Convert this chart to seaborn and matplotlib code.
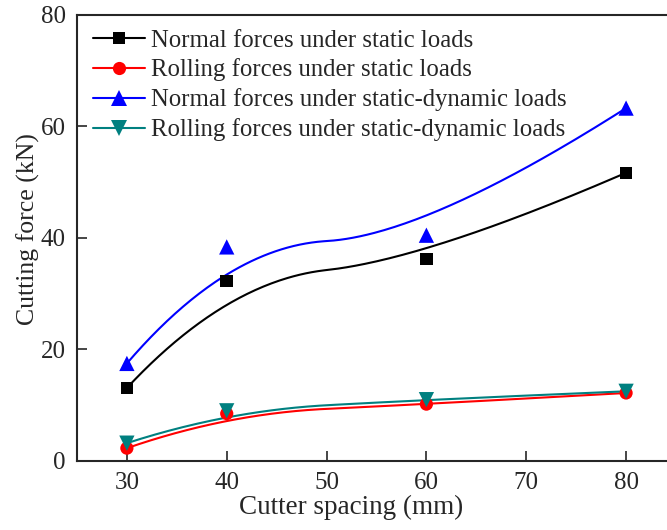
import numpy as np
import pandas as pd
import matplotlib
matplotlib.use("Agg")
import matplotlib.pyplot as plt
from matplotlib.lines import Line2D
import seaborn as sns

spacing = [30, 40, 60, 80]
normal_static = [13.1, 32.3, 36.2, 51.7]
rolling_static = [2.3, 8.5, 10.2, 12.2]
normal_dynamic = [17.5, 38.4, 40.5, 63.3]
rolling_dynamic = [3.2, 9.0, 11.0, 12.5]
labels = ["Normal forces under static loads",
          "Rolling forces under static loads",
          "Normal forces under static-dynamic loads",
          "Rolling forces under static-dynamic loads"]
colors = ["#000000", "#FF0000", "#0000FF", "#008080"]
markers = ["s", "o", "^", "v"]
sizes = [9, 9.5, 11, 11]


def bspline2(px, py, n=200):
    """Clamped quadratic B-spline using the data points as control points."""
    P = np.column_stack([px, py]).astype(float)
    k = 2
    m = len(P)
    inner = np.linspace(0, 1, m - k + 1)[1:-1]
    t = np.concatenate([[0] * (k + 1), inner, [1] * (k + 1)])
    u = np.linspace(0, 1, n)
    u[-1] = 1 - 1e-12

    def N(i, p, x):
        if p == 0:
            return np.where((t[i] <= x) & (x < t[i + 1]), 1.0, 0.0)
        a = np.zeros_like(x)
        b = np.zeros_like(x)
        if t[i + p] != t[i]:
            a = (x - t[i]) / (t[i + p] - t[i]) * N(i, p - 1, x)
        if t[i + p + 1] != t[i + 1]:
            b = (t[i + p + 1] - x) / (t[i + p + 1] - t[i + 1]) * N(i + 1, p - 1, x)
        return a + b

    B = np.column_stack([N(i, k, u) for i in range(m)])
    C = B @ P
    return C[:, 0], C[:, 1]


sns.set_style("ticks")
plt.rcParams["font.family"] = ["Liberation Serif", "DejaVu Serif"]
plt.rcParams["mathtext.fontset"] = "stix"

fig = plt.figure(figsize=(6.67, 5.30), dpi=100)
ax = fig.add_axes([0.1154, 0.1302, 0.8981, 0.8415])

series = [normal_static, rolling_static, normal_dynamic, rolling_dynamic]
handles = []
for vals, lab, col, mk, ms in zip(series, labels, colors, markers, sizes):
    cx, cy = bspline2(spacing, vals)
    curve = pd.DataFrame({"x": cx, "y": cy})
    sns.lineplot(data=curve, x="x", y="y", sort=False, color=col, lw=1.5,
                 ax=ax, legend=False, estimator=None)
    pts = pd.DataFrame({"x": spacing, "y": vals})
    sns.scatterplot(data=pts, x="x", y="y", marker=mk, color=col, s=ms ** 2,
                    edgecolor="none", ax=ax, legend=False, zorder=3)
    handles.append(Line2D([], [], color=col, lw=1.5, marker=mk,
                          markersize=ms, markeredgewidth=0))

ax.set_xlim(25, 85)
ax.set_ylim(0, 80)
ax.set_xticks([30, 40, 50, 60, 70, 80])
ax.set_yticks([0, 20, 40, 60, 80])
ax.tick_params(direction="in", length=7, width=1.2, labelsize=18, pad=8,
               top=False, right=False)
for s in ax.spines.values():
    s.set_linewidth(1.5)
ax.spines["right"].set_visible(False)

ax.set_xlabel("Cutter spacing (mm)", fontsize=19.5)
ax.set_ylabel("Cutting force (kN)", fontsize=18.5)
ax.xaxis.set_label_coords(0.457, -0.075)
ax.yaxis.set_label_coords(-0.062, 0.52)

ax.legend(handles, labels, loc="upper left", frameon=False, fontsize=17.8,
          handlelength=2.1, handletextpad=0.25, labelspacing=0.28,
          borderaxespad=0.25, bbox_to_anchor=(0.0, 1.004))

fig.savefig("out.png", dpi=100)
